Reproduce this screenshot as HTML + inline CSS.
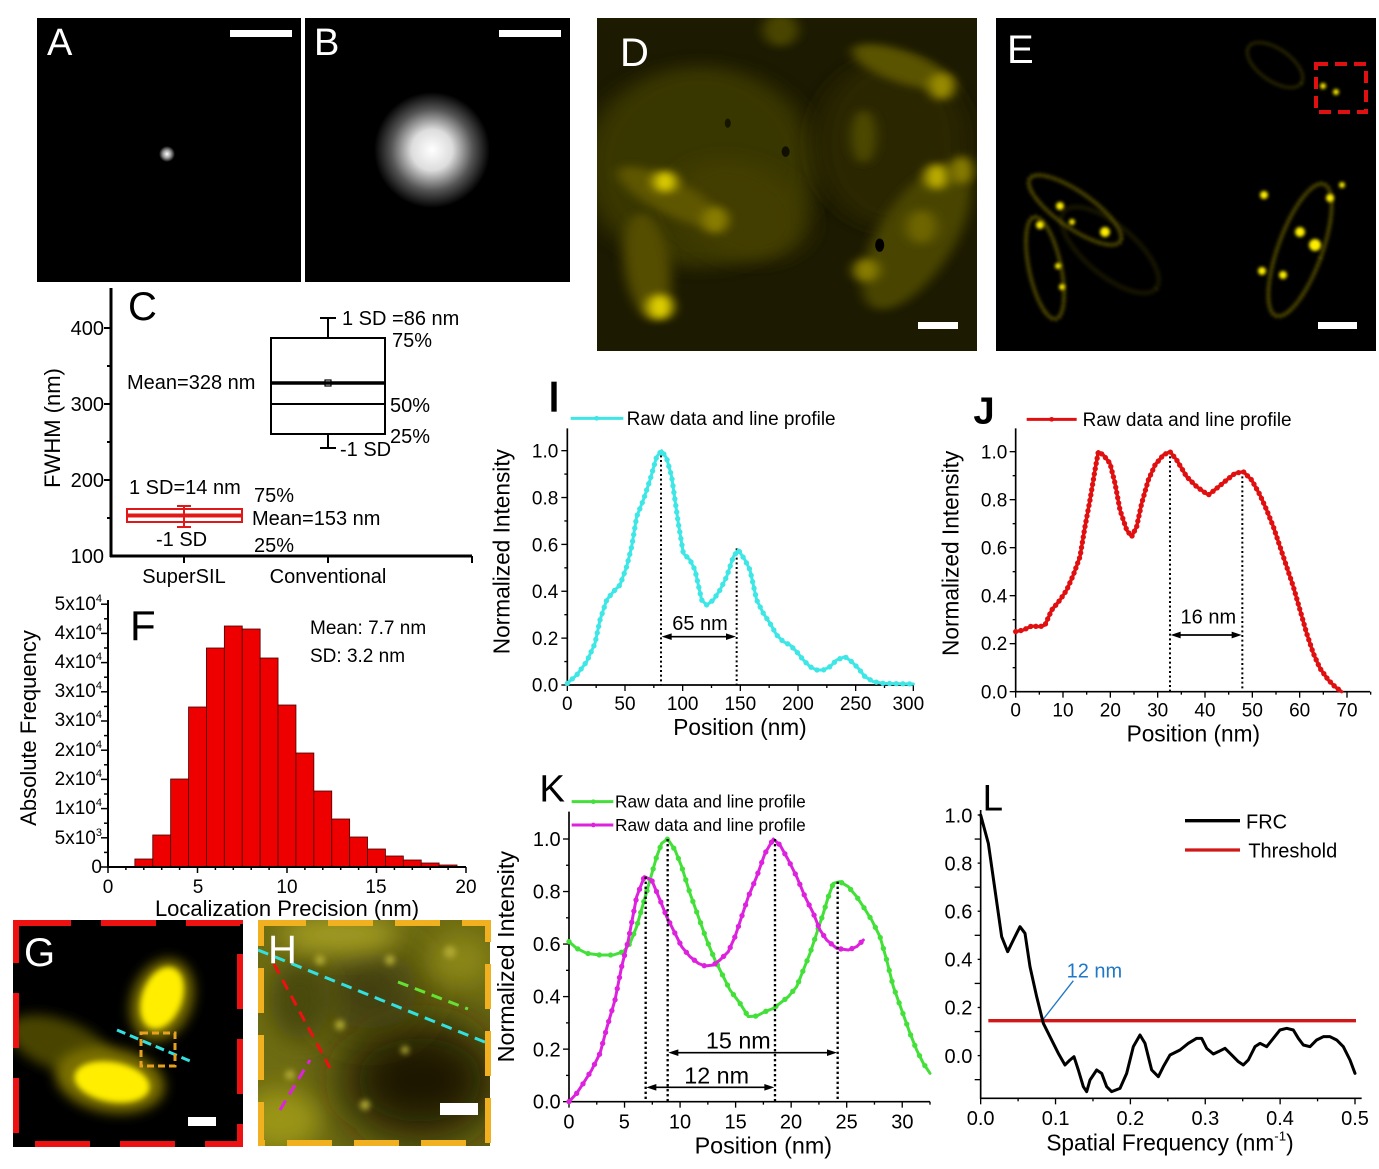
<!DOCTYPE html>
<html><head><meta charset="utf-8"><style>
html,body{margin:0;padding:0;background:#fff}
svg{display:block}
text{font-family:"Liberation Sans",Arial,sans-serif;fill:#000}
</style></head><body>
<svg id="s" xmlns="http://www.w3.org/2000/svg" width="1379" height="1169" viewBox="0 0 1379 1169">
<defs>
<filter id="b3" x="-50%" y="-50%" width="200%" height="200%"><feGaussianBlur stdDeviation="3"/></filter>
<filter id="b2" x="-50%" y="-50%" width="200%" height="200%"><feGaussianBlur stdDeviation="1.5"/></filter>
<filter id="b6" x="-50%" y="-50%" width="200%" height="200%"><feGaussianBlur stdDeviation="6"/></filter>
<filter id="b12" x="-50%" y="-50%" width="200%" height="200%"><feGaussianBlur stdDeviation="12"/></filter>
<filter id="b25" x="-50%" y="-50%" width="200%" height="200%"><feGaussianBlur stdDeviation="25"/></filter>
<radialGradient id="spotB"><stop offset="0" stop-color="#fff"/><stop offset="0.35" stop-color="#ddd"/><stop offset="0.7" stop-color="#555"/><stop offset="1" stop-color="#000"/></radialGradient>
<radialGradient id="spotA"><stop offset="0" stop-color="#fff"/><stop offset="0.5" stop-color="#999"/><stop offset="1" stop-color="#000"/></radialGradient>
<clipPath id="cD"><rect x="597" y="18" width="380" height="333"/></clipPath>
<clipPath id="cE"><rect x="996" y="18" width="380" height="333"/></clipPath>
<clipPath id="cG"><rect x="13" y="920" width="230" height="227"/></clipPath>
<clipPath id="cH"><rect x="258" y="920" width="232" height="226"/></clipPath>
</defs>
<rect width="1379" height="1169" fill="#fff"/>

<!-- A -->
<rect x="37" y="18" width="264" height="264" fill="#000"/>
<circle cx="167" cy="154" r="8" fill="url(#spotA)"/>
<rect x="230" y="30" width="62" height="7" fill="#fff"/>
<text x="47" y="55" font-size="38" style="fill:#fff">A</text>
<!-- B -->
<rect x="305" y="18" width="265" height="264" fill="#000"/>
<circle cx="432" cy="150" r="58" fill="url(#spotB)"/>
<rect x="499" y="30" width="62" height="7" fill="#fff"/>
<text x="314" y="55" font-size="38" style="fill:#fff">B</text>

<!-- D -->
<g clip-path="url(#cD)">
<rect x="597" y="18" width="380" height="333" fill="#1c1a00"/>
<g transform="translate(597,18) scale(0.503,0.334) translate(-15,-25)">
 <ellipse cx="220" cy="470" rx="230" ry="300" fill="#3e3a00" filter="url(#b25)" opacity="0.9"/>
 <ellipse cx="300" cy="600" rx="120" ry="160" fill="#433e00" filter="url(#b25)" transform="rotate(-30 300 600)"/>
 <ellipse cx="600" cy="400" rx="150" ry="250" fill="#2a2700" filter="url(#b25)"/>
 <ellipse cx="620" cy="170" rx="110" ry="45" fill="#5a5300" filter="url(#b12)" transform="rotate(30 620 170)"/>
 <ellipse cx="700" cy="230" rx="25" ry="40" fill="#9a8c00" filter="url(#b12)"/>
 <ellipse cx="380" cy="60" rx="35" ry="50" fill="#4a4400" filter="url(#b12)"/>
 <ellipse cx="545" cy="380" rx="25" ry="80" fill="#4e4800" filter="url(#b12)"/>
 <ellipse cx="160" cy="560" rx="130" ry="45" fill="#5e5700" filter="url(#b12)" transform="rotate(40 160 560)"/>
 <ellipse cx="150" cy="515" rx="22" ry="32" fill="#e0d000" filter="url(#b12)"/>
 <ellipse cx="250" cy="630" rx="25" ry="40" fill="#8a7e00" filter="url(#b12)"/>
 <ellipse cx="115" cy="770" rx="45" ry="160" fill="#544d00" filter="url(#b12)" transform="rotate(-5 115 770)"/>
 <ellipse cx="140" cy="890" rx="25" ry="38" fill="#e0d000" filter="url(#b12)"/>
 <ellipse cx="650" cy="680" rx="80" ry="230" fill="#4a4400" filter="url(#b12)" transform="rotate(20 650 680)"/>
 <ellipse cx="690" cy="500" rx="22" ry="38" fill="#c0b000" filter="url(#b12)"/>
 <ellipse cx="740" cy="480" rx="22" ry="42" fill="#8a7e00" filter="url(#b12)"/>
 <ellipse cx="550" cy="780" rx="25" ry="35" fill="#8a7e00" filter="url(#b12)"/>
 <ellipse cx="660" cy="650" rx="30" ry="50" fill="#6e6500" filter="url(#b12)"/>
 <ellipse cx="275" cy="340" rx="6" ry="14" fill="#000" opacity="0.6"/>
 <ellipse cx="390" cy="425" rx="8" ry="16" fill="#000" opacity="0.7"/>
 <ellipse cx="577" cy="705" rx="9" ry="20" fill="#000"/>
</g>
</g>
<rect x="918" y="322" width="40" height="7" fill="#fff"/>
<text x="620" y="66" font-size="40" style="fill:#fff">D</text>

<!-- E -->
<g clip-path="url(#cE)">
<rect x="996" y="18" width="380" height="333" fill="#000"/>
<g fill="none" stroke="#8a7e00" filter="url(#b2)" stroke-dasharray="2,2">
 <ellipse cx="1045" cy="268" rx="16" ry="52" stroke-width="4" transform="rotate(-12 1045 268)"/>
 <ellipse cx="1075" cy="210" rx="55" ry="18" stroke-width="4" transform="rotate(35 1075 210)"/>
 <ellipse cx="1300" cy="250" rx="22" ry="70" stroke-width="4" transform="rotate(20 1300 250)"/>
 <ellipse cx="1275" cy="65" rx="32" ry="16" stroke-width="3" transform="rotate(35 1275 65)" opacity="0.6"/>
 <ellipse cx="1110" cy="250" rx="60" ry="25" stroke-width="5" transform="rotate(40 1110 250)" opacity="0.3"/>
</g>
<g fill="#ffee00" filter="url(#b2)">
 <circle cx="1040" cy="225" r="4"/><circle cx="1058" cy="266" r="3"/><circle cx="1062" cy="287" r="3"/>
 <circle cx="1060" cy="206" r="4"/><circle cx="1072" cy="222" r="3"/><circle cx="1105" cy="232" r="5"/>
 <circle cx="1264" cy="195" r="4"/><circle cx="1300" cy="232" r="5"/><circle cx="1315" cy="245" r="6"/>
 <circle cx="1330" cy="198" r="4"/><circle cx="1342" cy="185" r="3"/><circle cx="1262" cy="271" r="4"/>
 <circle cx="1283" cy="275" r="4"/><circle cx="1323" cy="86" r="3"/><circle cx="1336" cy="92" r="3"/>
</g>
<rect x="1316" y="64" width="50" height="48" fill="none" stroke="#e01010" stroke-width="4" stroke-dasharray="12,7"/>
</g>
<rect x="1318" y="322" width="39" height="7" fill="#fff"/>
<text x="1007" y="63" font-size="40" style="fill:#fff">E</text>

<!-- C -->
<g>
<text x="128" y="320" font-size="40">C</text>
<line x1="111" y1="288" x2="111" y2="557" stroke="#000" stroke-width="3"/>
<line x1="110" y1="556" x2="472" y2="556" stroke="#000" stroke-width="3"/>
<g stroke="#000" stroke-width="2">
<line x1="111" y1="328" x2="104" y2="328"/><line x1="111" y1="404" x2="104" y2="404"/><line x1="111" y1="480" x2="104" y2="480"/>
<line x1="111" y1="366" x2="107" y2="366"/><line x1="111" y1="442" x2="107" y2="442"/><line x1="111" y1="518" x2="107" y2="518"/>
<line x1="184" y1="556" x2="184" y2="563"/><line x1="328" y1="556" x2="328" y2="563"/><line x1="472" y1="556" x2="472" y2="563"/>
</g>
<g font-size="20" text-anchor="end"><text x="104" y="335">400</text><text x="104" y="411">300</text><text x="104" y="487">200</text><text x="104" y="563">100</text></g>
<text transform="translate(60,428) rotate(-90)" font-size="22" text-anchor="middle">FWHM (nm)</text>
<g fill="none" stroke="#000" stroke-width="2">
<rect x="271" y="338" width="114" height="96"/>
<line x1="328" y1="338" x2="328" y2="318"/><line x1="320" y1="318" x2="336" y2="318"/>
<line x1="328" y1="434" x2="328" y2="448"/><line x1="320" y1="448" x2="336" y2="448"/>
<line x1="271" y1="404" x2="385" y2="404"/>
<rect x="325" y="380" width="6" height="6" stroke-width="1.2"/>
</g>
<line x1="271" y1="383" x2="386" y2="383" stroke="#000" stroke-width="3.5"/>
<g fill="none" stroke="#e01818" stroke-width="2">
<rect x="127" y="509" width="115" height="13"/>
<line x1="184" y1="506" x2="184" y2="527"/><line x1="177" y1="506" x2="191" y2="506"/><line x1="177" y1="527" x2="191" y2="527"/>
</g>
<line x1="127" y1="515.5" x2="242" y2="515.5" stroke="#e01818" stroke-width="4"/>
<g font-size="20">
<text x="342" y="325">1 SD =86 nm</text><text x="392" y="347">75%</text>
<text x="127" y="389">Mean=328 nm</text><text x="390" y="412">50%</text>
<text x="390" y="443">25%</text><text x="340" y="456">-1 SD</text>
<text x="129" y="494">1 SD=14 nm</text><text x="254" y="502">75%</text>
<text x="252" y="525">Mean=153 nm</text><text x="156" y="546">-1 SD</text><text x="254" y="552">25%</text>
<text x="184" y="583" text-anchor="middle">SuperSIL</text><text x="328" y="583" text-anchor="middle">Conventional</text>
</g>
</g>

<!-- F -->
<g>
<g id="bars" fill="#ee0000" stroke="#400" stroke-width="0.8"></g>
<line x1="108" y1="600" x2="108" y2="867" stroke="#000" stroke-width="2"/>
<line x1="107" y1="867" x2="466" y2="867" stroke="#000" stroke-width="2"/>
<g id="fticks" stroke="#000" stroke-width="1.5"></g>
<text x="130" y="640" font-size="42">F</text>
<text x="310" y="634" font-size="19">Mean: 7.7 nm</text>
<text x="310" y="662" font-size="19">SD: 3.2 nm</text>
<g font-size="19" text-anchor="end">
<text x="102" y="610">5x10<tspan font-size="11" dy="-8">4</tspan></text>
<text x="102" y="639">4x10<tspan font-size="11" dy="-8">4</tspan></text>
<text x="102" y="668">4x10<tspan font-size="11" dy="-8">4</tspan></text>
<text x="102" y="697">3x10<tspan font-size="11" dy="-8">4</tspan></text>
<text x="102" y="726">3x10<tspan font-size="11" dy="-8">4</tspan></text>
<text x="102" y="756">2x10<tspan font-size="11" dy="-8">4</tspan></text>
<text x="102" y="785">2x10<tspan font-size="11" dy="-8">4</tspan></text>
<text x="102" y="814">1x10<tspan font-size="11" dy="-8">4</tspan></text>
<text x="102" y="844">5x10<tspan font-size="11" dy="-8">3</tspan></text>
<text x="102" y="873">0</text>
</g>
<g font-size="19" text-anchor="middle"><text x="108" y="893">0</text><text x="198" y="893">5</text><text x="287" y="893">10</text><text x="376" y="893">15</text><text x="466" y="893">20</text></g>
<text x="287" y="916" font-size="22" text-anchor="middle">Localization Precision (nm)</text>
<text transform="translate(36,728) rotate(-90)" font-size="22" text-anchor="middle">Absolute Frequency</text>
</g>

<!-- G -->
<g clip-path="url(#cG)">
<rect x="13" y="920" width="230" height="227" fill="#000"/>
<ellipse cx="60" cy="1045" rx="55" ry="25" fill="#4a4400" filter="url(#b6)" transform="rotate(20 60 1045)"/>
<ellipse cx="110" cy="1080" rx="55" ry="32" fill="#7a7000" filter="url(#b6)" transform="rotate(10 110 1080)"/>
<ellipse cx="112" cy="1082" rx="38" ry="20" fill="#ffee00" filter="url(#b3)" transform="rotate(10 112 1082)"/>
<ellipse cx="162" cy="1000" rx="30" ry="42" fill="#7a7000" filter="url(#b6)" transform="rotate(20 162 1000)"/>
<ellipse cx="162" cy="998" rx="20" ry="32" fill="#ffee00" filter="url(#b3)" transform="rotate(20 162 998)"/>
<line x1="117" y1="1030" x2="190" y2="1061" stroke="#33e0e0" stroke-width="3" stroke-dasharray="9,5"/>
<rect x="141" y="1033" width="34" height="33" fill="none" stroke="#e8a020" stroke-width="3" stroke-dasharray="7,4"/>
<rect x="188" y="1117" width="28" height="9" fill="#fff"/>
<text x="24" y="966" font-size="40" style="fill:#fff">G</text>
</g>
<rect x="16" y="923" width="224" height="221" fill="none" stroke="#ee1111" stroke-width="6" stroke-dasharray="55,30"/>

<!-- H -->
<g clip-path="url(#cH)">
<rect x="258" y="920" width="232" height="226" fill="#6e6c12"/>
<ellipse cx="420" cy="1080" rx="80" ry="60" fill="#1a1800" filter="url(#b25)"/>
<ellipse cx="370" cy="990" rx="50" ry="40" fill="#3a3808" filter="url(#b25)"/>
<ellipse cx="300" cy="1000" rx="30" ry="40" fill="#4a4808" filter="url(#b12)"/>
<ellipse cx="280" cy="1120" rx="40" ry="30" fill="#9a9418" filter="url(#b12)"/>
<ellipse cx="340" cy="935" rx="60" ry="20" fill="#a09a20" filter="url(#b12)"/>
<ellipse cx="460" cy="960" rx="30" ry="25" fill="#8a8618" filter="url(#b12)"/>
<g fill="#b0a830" filter="url(#b3)"><circle cx="320" cy="960" r="5"/><circle cx="390" cy="960" r="5"/><circle cx="450" cy="952" r="6"/><circle cx="340" cy="1025" r="5"/><circle cx="405" cy="1050" r="4"/><circle cx="365" cy="1105" r="5"/><circle cx="290" cy="1075" r="5"/></g>
<line x1="258" y1="950" x2="492" y2="1045" stroke="#33e0e0" stroke-width="3" stroke-dasharray="11,7"/>
<line x1="274" y1="964" x2="330" y2="1068" stroke="#ee1111" stroke-width="3" stroke-dasharray="11,7"/>
<line x1="280" y1="1110" x2="310" y2="1060" stroke="#dd22dd" stroke-width="3" stroke-dasharray="11,7"/>
<line x1="398" y1="982" x2="468" y2="1009" stroke="#66e033" stroke-width="3" stroke-dasharray="11,7"/>
<rect x="440" y="1103" width="38" height="12" fill="#fff"/>
<text x="268" y="963" font-size="40" style="fill:#fff">H</text>
</g>
<rect x="261" y="923" width="227" height="220" fill="none" stroke="#f0b020" stroke-width="6" stroke-dasharray="45,22"/>

<!-- I -->
<g id="gI" transform="translate(480,370) scale(0.33333)">
<line x1="262" y1="175" x2="262" y2="947" stroke="#000" stroke-width="5"/>
<line x1="260" y1="945" x2="1300" y2="945" stroke="#000" stroke-width="5"/>
<g font-size="57" text-anchor="end"><text x="235" y="262">1.0</text><text x="235" y="403">0.8</text><text x="235" y="544">0.6</text><text x="235" y="684">0.4</text><text x="235" y="825">0.2</text><text x="235" y="965">0.0</text></g>
<g font-size="57" text-anchor="middle"><text x="262" y="1020">0</text><text x="435" y="1020">50</text><text x="608" y="1020">100</text><text x="781" y="1020">150</text><text x="954" y="1020">200</text><text x="1127" y="1020">250</text><text x="1285" y="1020">300</text></g>
<text x="780" y="1095" font-size="68" text-anchor="middle">Position (nm)</text>
<text transform="translate(88,545) rotate(-90)" font-size="68" text-anchor="middle">Normalized Intensity</text>
<rect x="214" y="35" width="16" height="90" fill="#000"/>
<line x1="272" y1="145" x2="430" y2="145" stroke="#3ee6e6" stroke-width="9"/><circle cx="350" cy="145" r="7" fill="#3ee6e6"/>
<text x="440" y="165" font-size="57">Raw data and line profile</text>
<g stroke="#000" stroke-width="6" stroke-dasharray="6,8"><line x1="543" y1="242" x2="543" y2="945"/><line x1="770" y1="535" x2="770" y2="945"/></g>
<line x1="560" y1="800" x2="753" y2="800" stroke="#000" stroke-width="5"/>
<polygon points="545,800 575,790 575,810" fill="#000"/><polygon points="768,800 738,790 738,810" fill="#000"/>
<text x="660" y="780" font-size="60" text-anchor="middle">65 nm</text>
</g>

<!-- J -->
<g id="gJ" transform="translate(930,370) scale(0.33333)">
<line x1="257" y1="175" x2="257" y2="967" stroke="#000" stroke-width="5"/>
<line x1="255" y1="965" x2="1320" y2="965" stroke="#000" stroke-width="5"/>
<g font-size="57" text-anchor="end"><text x="232" y="265">1.0</text><text x="232" y="410">0.8</text><text x="232" y="553">0.6</text><text x="232" y="697">0.4</text><text x="232" y="840">0.2</text><text x="232" y="985">0.0</text></g>
<g font-size="57" text-anchor="middle"><text x="257" y="1040">0</text><text x="399" y="1040">10</text><text x="541" y="1040">20</text><text x="683" y="1040">30</text><text x="825" y="1040">40</text><text x="967" y="1040">50</text><text x="1109" y="1040">60</text><text x="1251" y="1040">70</text></g>
<text x="790" y="1115" font-size="68" text-anchor="middle">Position (nm)</text>
<text transform="translate(85,550) rotate(-90)" font-size="68" text-anchor="middle">Normalized Intensity</text>
<text x="130" y="160" font-size="115" font-weight="bold">J</text>
<line x1="290" y1="148" x2="440" y2="148" stroke="#e01010" stroke-width="9"/><circle cx="365" cy="148" r="7" fill="#e01010"/>
<text x="458" y="168" font-size="57">Raw data and line profile</text>
<g stroke="#000" stroke-width="6" stroke-dasharray="6,8"><line x1="720" y1="245" x2="720" y2="965"/><line x1="937" y1="305" x2="937" y2="965"/></g>
<line x1="735" y1="795" x2="922" y2="795" stroke="#000" stroke-width="5"/>
<polygon points="722,795 752,785 752,805" fill="#000"/><polygon points="935,795 905,785 905,805" fill="#000"/>
<text x="835" y="760" font-size="60" text-anchor="middle">16 nm</text>
</g>

<!-- K -->
<g id="gK" transform="translate(490,770) scale(0.33333)">
<line x1="237" y1="125" x2="237" y2="997" stroke="#000" stroke-width="5"/>
<line x1="235" y1="995" x2="1320" y2="995" stroke="#000" stroke-width="5"/>
<g font-size="60" text-anchor="end"><text x="212" y="228">1.0</text><text x="212" y="385">0.8</text><text x="212" y="543">0.6</text><text x="212" y="701">0.4</text><text x="212" y="859">0.2</text><text x="212" y="1016">0.0</text></g>
<g font-size="60" text-anchor="middle"><text x="237" y="1075">0</text><text x="403" y="1075">5</text><text x="570" y="1075">10</text><text x="737" y="1075">15</text><text x="903" y="1075">20</text><text x="1070" y="1075">25</text><text x="1237" y="1075">30</text></g>
<text x="820" y="1150" font-size="70" text-anchor="middle">Position (nm)</text>
<text transform="translate(72,560) rotate(-90)" font-size="70" text-anchor="middle">Normalized Intensity</text>
<text x="148" y="95" font-size="115">K</text>
<line x1="245" y1="95" x2="370" y2="95" stroke="#44e03a" stroke-width="9"/><circle cx="310" cy="95" r="7" fill="#44e03a"/>
<line x1="245" y1="165" x2="370" y2="165" stroke="#dd22dd" stroke-width="9"/><circle cx="310" cy="165" r="7" fill="#dd22dd"/>
<text x="375" y="113" font-size="52">Raw data and line profile</text>
<text x="375" y="183" font-size="52">Raw data and line profile</text>
</g>

<!-- L -->
<g id="gL" transform="translate(930,790) scale(0.33333)">
<line x1="152" y1="60" x2="152" y2="927" stroke="#000" stroke-width="5"/>
<line x1="150" y1="925" x2="1295" y2="925" stroke="#000" stroke-width="5"/>
<g font-size="60" text-anchor="end"><text x="127" y="97">1.0</text><text x="127" y="242">0.8</text><text x="127" y="385">0.6</text><text x="127" y="529">0.4</text><text x="127" y="674">0.2</text><text x="127" y="819">0.0</text></g>
<g font-size="60" text-anchor="middle"><text x="152" y="1005">0.0</text><text x="377" y="1005">0.1</text><text x="601" y="1005">0.2</text><text x="826" y="1005">0.3</text><text x="1050" y="1005">0.4</text><text x="1275" y="1005">0.5</text></g>
<text x="720" y="1082" font-size="68" text-anchor="middle">Spatial Frequency (nm<tspan font-size="40" dy="-30">-1</tspan><tspan dy="30">)</tspan></text>
<text x="158" y="62" font-size="110">L</text>
<line x1="765" y1="92" x2="930" y2="92" stroke="#000" stroke-width="10"/>
<line x1="765" y1="180" x2="930" y2="180" stroke="#d01818" stroke-width="10"/>
<text x="948" y="115" font-size="60">FRC</text>
<text x="955" y="203" font-size="60">Threshold</text>
<line x1="175" y1="692" x2="1278" y2="692" stroke="#d01818" stroke-width="10"/>
<line x1="338" y1="690" x2="430" y2="572" stroke="#1f77c8" stroke-width="4"/>
<text x="410" y="563" font-size="60" style="fill:#1f77c8">12 nm</text>
</g>
</svg>
<script>
const NS='http://www.w3.org/2000/svg';
function el(p,t,a){const e=document.createElementNS(NS,t);for(const k in a)e.setAttribute(k,a[k]);p.appendChild(e);return e;}
function curve(g,pts,col,sw,r,step){
  el(g,'polyline',{points:pts.map(p=>p.join(',')).join(' '),fill:'none',stroke:col,'stroke-width':sw,'stroke-linejoin':'round','stroke-linecap':'round'});
  if(!r)return;
  let acc=0;el(g,'circle',{cx:pts[0][0],cy:pts[0][1],r:r,fill:col});
  for(let i=1;i<pts.length;i++){
    const [x0,y0]=pts[i-1],[x1,y1]=pts[i];const d=Math.hypot(x1-x0,y1-y0);let t=step-acc;
    while(t<=d){el(g,'circle',{cx:x0+(x1-x0)*t/d,cy:y0+(y1-y0)*t/d,r:r,fill:col});t+=step;}
    acc=(acc+d)%step;
  }
}
function yt(g,x,y0,y1,n,len){for(let i=0;i<=n;i++){const y=y0+(y1-y0)*i/n;el(g,'line',{x1:x,y1:y,x2:x-(i%2?len/2:len),y2:y,stroke:'#000','stroke-width':4});}}
function xt(g,y,x0,x1,n,len){for(let i=0;i<=n;i++){const x=x0+(x1-x0)*i/n;el(g,'line',{x1:x,y1:y,x2:x,y2:y+(i%2?len/2:len),stroke:'#000','stroke-width':4});}}
const gI=document.getElementById('gI');
yt(gI,262,945,242,10,18);xt(gI,945,262,1300,12,18);
curve(gI,[[262,940],[290,915],[320,875],[345,820],[360,750],[380,690],[400,665],[420,645],[440,590],[455,530],[470,440],[490,390],[510,330],[530,260],[545,242],[560,265],[575,320],[595,460],[610,550],[630,570],[645,600],[665,690],[680,705],[700,690],[720,660],[740,620],[760,560],[775,540],[795,570],[810,600],[830,690],[850,730],[870,760],[890,795],[910,815],[930,825],[950,845],[970,870],[990,890],[1010,900],[1030,900],[1050,890],[1070,870],[1095,860],[1115,875],[1135,895],[1155,920],[1180,935],[1210,940],[1300,942]],'#3ee6e6',9,8,20);
const gJ=document.getElementById('gJ');
yt(gJ,257,965,245,10,18);xt(gJ,965,257,1322,15,18);
curve(gJ,[[257,785],[280,780],[305,768],[330,770],[345,765],[365,720],[390,690],[410,660],[430,615],[450,560],[465,470],[480,390],[495,300],[505,245],[520,255],[540,280],[555,340],[570,420],[590,480],[605,500],[620,470],[635,400],[655,330],[675,285],[700,255],[720,245],[740,270],[770,320],[800,350],[835,375],[860,355],[890,330],[915,310],[940,305],[965,330],[990,375],[1010,420],[1030,470],[1050,530],[1070,590],[1090,650],[1110,720],[1130,790],[1150,850],[1170,895],[1195,930],[1215,950],[1235,965]],'#e01010',10,8,16);
const gK=document.getElementById('gK');
yt(gK,237,995,207,10,18);xt(gK,995,237,1320,13,18);
curve(gK,[[237,515],[260,535],[290,550],[330,555],[370,555],[400,545],[420,520],[440,470],[460,400],[480,330],[500,260],[515,220],[533,207],[555,240],[575,290],[600,370],[625,440],[650,510],[675,570],[700,620],[720,660],[750,700],[775,740],[800,738],[825,725],[850,715],[870,700],[895,680],[920,650],[940,600],[960,550],[980,490],[1000,430],[1015,380],[1030,340],[1050,335],[1075,350],[1100,380],[1120,410],[1145,450],[1170,500],[1190,570],[1210,650],[1235,720],[1260,790],[1280,840],[1300,880],[1320,910]],'#44e03a',9,8,34);
curve(gK,[[237,995],[260,970],[280,940],[305,900],[330,850],[350,775],[375,690],[395,590],[415,510],[440,380],[463,320],[485,330],[510,390],[530,440],[555,490],[575,530],[600,560],[625,580],[645,588],[670,585],[690,570],[715,545],[735,500],[755,440],[775,380],[800,320],[825,250],[850,207],[870,225],[895,270],[920,320],[945,380],[970,430],[990,480],[1010,510],[1040,535],[1075,540],[1100,530],[1120,510]],'#dd22dd',9,8,34);
[[467,320,995],[533,207,995],[855,207,995],[1043,335,995]].forEach(a=>el(gK,'line',{x1:a[0],y1:a[1],x2:a[0],y2:a[2],stroke:'#000','stroke-width':7,'stroke-dasharray':'7,8'}));
el(gK,'line',{x1:550,y1:848,x2:1026,y2:848,stroke:'#000','stroke-width':5});
el(gK,'polygon',{points:'535,848 565,838 565,858',fill:'#000'});el(gK,'polygon',{points:'1041,848 1011,838 1011,858',fill:'#000'});
el(gK,'line',{x1:484,y1:952,x2:838,y2:952,stroke:'#000','stroke-width':5});
el(gK,'polygon',{points:'469,952 499,942 499,962',fill:'#000'});el(gK,'polygon',{points:'853,952 823,942 823,962',fill:'#000'});
let t=el(gK,'text',{x:745,y:835,'font-size':70,'text-anchor':'middle'});t.textContent='15 nm';
t=el(gK,'text',{x:680,y:940,'font-size':70,'text-anchor':'middle'});t.textContent='12 nm';
const gL=document.getElementById('gL');
yt(gL,152,869,75,11,18);xt(gL,925,152,1275,10,18);
curve(gL,[[152,75],[175,160],[195,300],[215,440],[233,485],[250,450],[270,410],[285,430],[300,530],[320,620],[340,700],[360,740],[385,790],[405,825],[420,810],[432,800],[445,840],[460,890],[470,905],[480,870],[500,840],[515,850],[530,890],[545,905],[570,895],[590,850],[610,770],[630,735],[645,760],[665,840],[685,860],[700,830],[720,795],[750,780],[775,760],[800,745],[815,745],[830,775],[850,792],[865,785],[885,775],[905,795],[925,815],[940,825],[955,810],[975,770],[990,760],[1010,770],[1030,745],[1050,720],[1070,715],[1090,720],[1105,745],[1120,765],[1140,770],[1160,750],[1180,740],[1200,740],[1220,750],[1240,770],[1260,810],[1275,850]],'#000',9,0,0);
const bars=document.getElementById('bars');
const tops=[859,835,779,707,648,626,629,658,705,753,791,819,837,849,856,860,863,865];
tops.forEach((ty,i)=>{const x=108+(1.5+i)*17.9;el(bars,'rect',{x:x,y:ty,width:17.9,height:867-ty});});
const ft=document.getElementById('fticks');
for(let i=0;i<=18;i++){const y=867-i*14.6;el(ft,'line',{x1:108,y1:y,x2:i%2?104:101,y2:y});}
for(let i=0;i<=20;i++){const x=108+i*17.9;el(ft,'line',{x1:x,y1:867,x2:x,y2:i%5?870:873});}
</script>
</body></html>
